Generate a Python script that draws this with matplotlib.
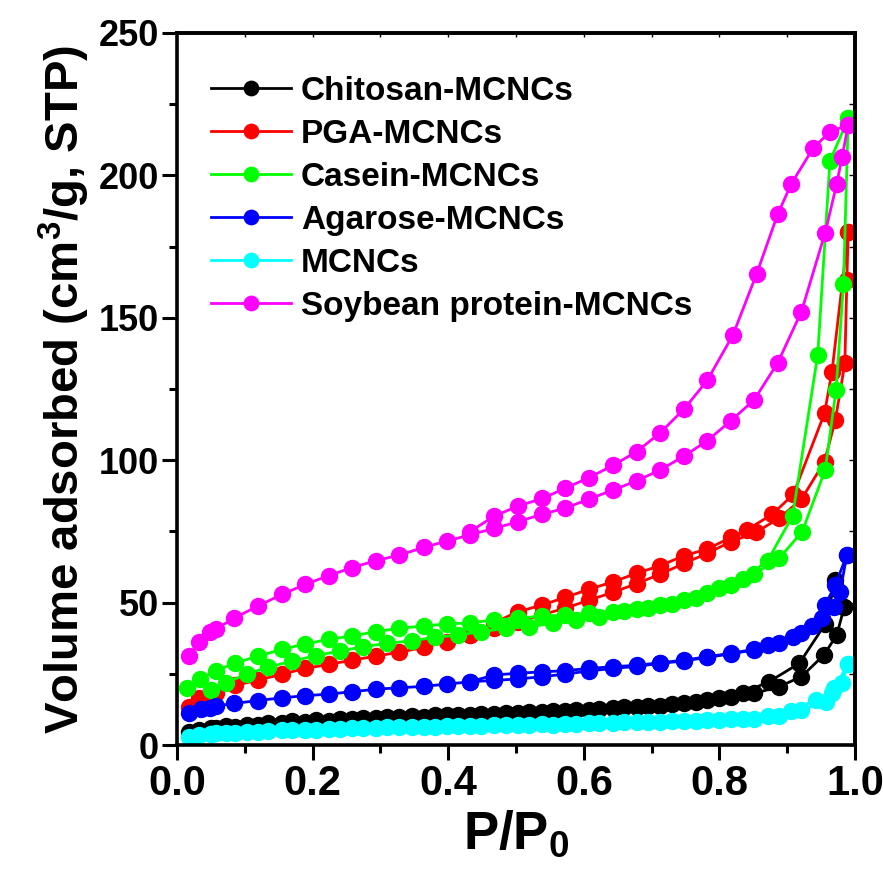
import matplotlib.pyplot as plt
from matplotlib.ticker import MultipleLocator, FormatStrFormatter

# adsorption (ads) and desorption (des) branches
chitosan_ads_x = [0.017, 0.033, 0.050, 0.057, 0.085, 0.120, 0.155, 0.189, 0.224, 0.258, 0.293, 0.328, 0.364,
                  0.398, 0.432, 0.468, 0.503, 0.539, 0.572, 0.608, 0.643, 0.678, 0.713, 0.748, 0.782, 0.817,
                  0.851, 0.888, 0.921, 0.954, 0.973, 0.984]
chitosan_ads_y = [4.7, 5.3, 5.6, 5.9, 6.4, 7.0, 7.6, 8.2, 8.5, 9.0, 9.4, 9.9, 9.9, 10.5, 10.5, 10.9, 11.1, 11.7,
                  12.0, 12.3, 12.9, 13.3, 13.7, 14.6, 15.8, 17.0, 18.1, 20.5, 24.0, 31.6, 38.6, 48.3]
chitosan_des_x = [0.984, 0.971, 0.956, 0.918, 0.873, 0.835, 0.799, 0.765, 0.730, 0.695, 0.660, 0.623, 0.589,
                  0.554, 0.519, 0.485, 0.449, 0.414, 0.380, 0.346, 0.310, 0.274, 0.240, 0.205, 0.170, 0.134,
                  0.103, 0.072, 0.050]
chitosan_des_y = [48.3, 57.9, 42.5, 28.7, 22.2, 18.4, 16.6, 15.2, 14.4, 13.8, 13.3, 12.8, 12.4, 12.0, 11.6,
                  11.3, 11.0, 10.7, 10.5, 10.3, 10.0, 9.6, 9.2, 8.8, 8.3, 7.8, 7.2, 6.6, 6.1]

pga_ads_x = [0.017, 0.033, 0.050, 0.057, 0.085, 0.120, 0.155, 0.189, 0.224, 0.258, 0.293, 0.328, 0.364, 0.398,
             0.432, 0.468, 0.503, 0.539, 0.572, 0.608, 0.643, 0.678, 0.713, 0.748, 0.782, 0.817, 0.854, 0.888,
             0.921, 0.955, 0.971, 0.985, 0.988, 0.990]
pga_ads_y = [13.5, 16.5, 17.9, 18.4, 20.9, 22.8, 24.9, 26.9, 28.3, 29.8, 31.2, 32.6, 34.3, 36.3, 38.6, 41.0,
             43.3, 45.8, 48.0, 50.9, 53.6, 56.7, 60.0, 63.8, 67.3, 71.4, 74.7, 79.6, 86.3, 99.5, 114.1, 134.0,
             163.3, 180.0]
pga_des_x = [0.990, 0.966, 0.955, 0.909, 0.878, 0.840, 0.817, 0.782, 0.748, 0.713, 0.678, 0.643, 0.608, 0.572,
             0.539, 0.503, 0.468, 0.432]
pga_des_y = [180.0, 131.0, 116.5, 88.0, 81.0, 75.5, 72.9, 68.8, 66.5, 63.0, 60.3, 57.3, 54.7, 51.8, 49.2, 46.8,
             43.0, 38.6]

casein_ads_x = [0.015, 0.034, 0.057, 0.085, 0.119, 0.155, 0.189, 0.224, 0.258, 0.293, 0.328, 0.364, 0.398,
                0.432, 0.468, 0.503, 0.539, 0.572, 0.608, 0.643, 0.678, 0.713, 0.748, 0.782, 0.817, 0.851,
                0.888, 0.922, 0.956, 0.972, 0.983, 0.990]
casein_ads_y = [19.9, 23.2, 26.1, 28.7, 31.2, 33.6, 35.5, 37.1, 38.3, 39.8, 41.0, 41.8, 42.5, 42.9, 43.9, 44.5,
                45.3, 45.6, 46.2, 46.8, 47.6, 49.2, 50.9, 53.3, 56.2, 60.0, 65.5, 74.9, 96.6, 124.6, 161.7, 220.0]
casein_des_x = [0.990, 0.963, 0.945, 0.908, 0.871, 0.835, 0.799, 0.765, 0.730, 0.695, 0.660, 0.623, 0.589,
                0.554, 0.519, 0.485, 0.449, 0.414, 0.380, 0.346, 0.310, 0.274, 0.240, 0.205, 0.170, 0.134,
                0.103, 0.072, 0.050]
casein_des_y = [220.0, 205.0, 137.0, 80.5, 64.7, 58.3, 55.0, 51.5, 49.5, 48.2, 47.0, 45.0, 43.9, 42.7, 41.5,
                41.0, 39.8, 38.6, 37.8, 36.6, 35.7, 34.5, 33.0, 31.4, 29.5, 27.3, 24.9, 21.9, 19.3]

agarose_ads_x = [0.018, 0.036, 0.049, 0.057, 0.084, 0.119, 0.155, 0.189, 0.224, 0.258, 0.293, 0.328, 0.364,
                 0.398, 0.432, 0.468, 0.503, 0.539, 0.572, 0.608, 0.643, 0.678, 0.713, 0.748, 0.782, 0.817,
                 0.851, 0.888, 0.921, 0.952, 0.969, 0.978, 0.988]
agarose_ads_y = [11.3, 12.5, 13.1, 13.7, 14.6, 15.6, 16.6, 17.3, 17.9, 18.7, 19.6, 20.1, 20.6, 21.4, 22.2, 22.7,
                 23.2, 24.0, 24.9, 26.0, 26.9, 27.6, 28.7, 29.5, 30.8, 32.0, 33.4, 35.7, 39.2, 44.5, 48.6, 53.8,
                 66.7]
agarose_des_x = [0.988, 0.971, 0.956, 0.937, 0.908, 0.871, 0.851, 0.817, 0.782, 0.748, 0.713, 0.678, 0.643,
                 0.608, 0.572, 0.539, 0.503, 0.468, 0.432]
agarose_des_y = [66.7, 56.2, 49.2, 41.8, 38.0, 35.0, 33.6, 32.2, 31.0, 29.8, 28.9, 28.0, 27.5, 26.9, 26.1,
                 25.7, 25.2, 24.6, 22.2]

mcnc_ads_x = [0.017, 0.033, 0.050, 0.057, 0.085, 0.120, 0.155, 0.189, 0.224, 0.258, 0.293, 0.328, 0.364, 0.398,
              0.432, 0.468, 0.503, 0.539, 0.572, 0.608, 0.643, 0.678, 0.713, 0.748, 0.782, 0.817, 0.851, 0.888,
              0.921, 0.957, 0.969, 0.981, 0.989]
mcnc_ads_y = [2.9, 3.5, 3.8, 4.1, 4.3, 4.7, 5.1, 5.3, 5.5, 5.9, 6.1, 6.4, 6.4, 6.6, 6.6, 7.0, 7.0, 7.3, 7.3, 7.6,
              7.8, 8.1, 8.1, 8.3, 8.8, 9.1, 9.3, 10.2, 12.3, 15.2, 19.9, 21.9, 28.3]
mcnc_des_x = [0.989, 0.966, 0.942, 0.905, 0.871, 0.835, 0.799, 0.765, 0.730, 0.695, 0.660, 0.623, 0.589, 0.554,
              0.519, 0.485, 0.449, 0.414, 0.380, 0.346, 0.310, 0.274, 0.240, 0.205, 0.170, 0.134, 0.103, 0.072,
              0.050]
mcnc_des_y = [28.3, 18.1, 15.8, 12.0, 10.2, 9.1, 8.9, 8.6, 8.3, 8.1, 8.0, 7.7, 7.4, 7.2, 7.1, 6.9, 6.7, 6.6,
              6.5, 6.3, 6.2, 6.0, 5.7, 5.4, 5.2, 4.9, 4.5, 4.2, 3.8]

soy_ads_x = [0.017, 0.033, 0.049, 0.057, 0.084, 0.119, 0.155, 0.189, 0.224, 0.258, 0.293, 0.328, 0.364, 0.398,
             0.432, 0.468, 0.503, 0.539, 0.572, 0.608, 0.643, 0.678, 0.713, 0.748, 0.782, 0.817, 0.851, 0.886,
             0.921, 0.956, 0.973, 0.981, 0.990]
soy_ads_y = [31.2, 36.3, 39.8, 40.7, 44.5, 48.8, 52.9, 56.4, 59.5, 62.3, 64.7, 66.7, 69.4, 71.6, 73.8, 76.1,
             78.4, 81.1, 83.1, 86.4, 89.5, 92.8, 96.6, 101.5, 106.8, 113.9, 121.1, 134.2, 152.2, 179.9, 197.0,
             206.6, 217.7]
soy_des_x = [0.990, 0.963, 0.938, 0.906, 0.886, 0.855, 0.820, 0.782, 0.748, 0.713, 0.678, 0.643, 0.608, 0.572,
             0.539, 0.503, 0.468, 0.432]
soy_des_y = [217.7, 215.3, 209.5, 197.0, 186.4, 165.5, 144.0, 128.0, 118.0, 109.7, 103.0, 98.2, 93.9, 90.1,
             86.6, 83.9, 80.4, 74.9]

names = ['Chitosan-MCNCs', 'PGA-MCNCs', 'Casein-MCNCs', 'Agarose-MCNCs', 'MCNCs', 'Soybean protein-MCNCs']
colors = ['#000000', '#ff0000', '#00ff00', '#0000ff', '#00ffff', '#ff00ff']
branches = [
    (chitosan_ads_x, chitosan_ads_y, chitosan_des_x, chitosan_des_y),
    (pga_ads_x, pga_ads_y, pga_des_x, pga_des_y),
    (casein_ads_x, casein_ads_y, casein_des_x, casein_des_y),
    (agarose_ads_x, agarose_ads_y, agarose_des_x, agarose_des_y),
    (mcnc_ads_x, mcnc_ads_y, mcnc_des_x, mcnc_des_y),
    (soy_ads_x, soy_ads_y, soy_des_x, soy_des_y),
]

plt.rcParams['font.family'] = ['Liberation Sans', 'DejaVu Sans']
plt.rcParams['font.weight'] = 'bold'
plt.rcParams['axes.labelweight'] = 'bold'
plt.rcParams['mathtext.fontset'] = 'custom'
plt.rcParams['mathtext.rm'] = 'Liberation Sans:bold'
plt.rcParams['mathtext.bf'] = 'Liberation Sans:bold'
plt.rcParams['mathtext.it'] = 'Liberation Sans:bold'

fig = plt.figure(figsize=(8.83, 8.82), dpi=100)
ax = fig.add_axes([0.2005, 0.1553, 0.7678, 0.8073])

for name, c, (ax_x, ax_y, dx, dy) in zip(names, colors, branches):
    ax.plot(ax_x, ax_y, '-o', color=c, lw=2, ms=11.5, label=name)
    ax.plot(dx, dy, '-o', color=c, lw=2, ms=11.5)

ax.set_xlim(0, 1)
ax.set_ylim(0, 250)
ax.xaxis.set_major_locator(MultipleLocator(0.2))
ax.xaxis.set_minor_locator(MultipleLocator(0.1))
ax.yaxis.set_major_locator(MultipleLocator(50))
ax.yaxis.set_minor_locator(MultipleLocator(25))
ax.xaxis.set_major_formatter(FormatStrFormatter('%.1f'))
ax.tick_params(which='major', direction='out', length=11, width=2.2)
ax.tick_params(which='minor', direction='out', length=6, width=2.2)
ax.tick_params(axis='x', labelsize=30, pad=3)
ax.tick_params(axis='y', labelsize=26, pad=2)
for s in ax.spines.values():
    s.set_linewidth(2.6)

# small inward ticks on top and right
top = ax.secondary_xaxis('top')
top.xaxis.set_major_locator(MultipleLocator(0.1))
top.tick_params(direction='in', length=3, width=1, labeltop=False)
top.spines['top'].set_linewidth(2.6)
right = ax.secondary_yaxis('right')
right.yaxis.set_major_locator(MultipleLocator(25))
right.tick_params(direction='in', length=4, width=1, labelright=False)
right.spines['right'].set_linewidth(2.6)

ax.set_xlabel('P/P$_\\mathbf{0}$', fontsize=38, fontweight='bold', labelpad=3)
ax.set_ylabel('Volume adsorbed (cm$^\\mathbf{3}$/g, STP)', fontsize=34, fontweight='bold', labelpad=5)

ax.legend(loc='upper left', bbox_to_anchor=(0.05, 0.94), frameon=False,
          prop={'size': 24, 'weight': 'bold'}, handlelength=2.4, handletextpad=0.3,
          labelspacing=0.36, borderpad=0, borderaxespad=0, markerscale=0.9)

fig.savefig('out.png', dpi=100)
